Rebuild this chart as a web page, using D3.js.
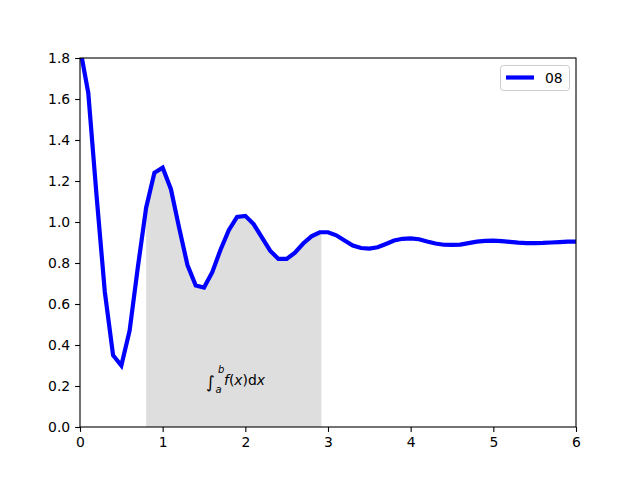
<!DOCTYPE html>
<html><head><meta charset="utf-8">
<script src="https://cdn.jsdelivr.net/npm/d3@7/dist/d3.min.js"></script>
<style>body{margin:0;background:#fff}svg text{font-family:"DejaVu Sans",sans-serif}</style>
</head><body><svg id="c" width="640" height="480"></svg>
<script>
const xValues = [0.0,0.1,0.2,0.3,0.4,0.5,0.6,0.7,0.8,0.9,1.0,1.1,1.2,1.3,1.4,1.5,1.6,1.7,1.8,1.9,2.0,2.1,2.2,2.3,2.4,2.5,2.6,2.7,2.8,2.9,3.0,3.1,3.2,3.3,3.4,3.5,3.6,3.7,3.8,3.9,4.0,4.1,4.2,4.3,4.4,4.5,4.6,4.7,4.8,4.9,5.0,5.1,5.2,5.3,5.4,5.5,5.6,5.7,5.8,5.9,6.0];
const yValues = [1.85,1.63,1.13,0.66,0.35,0.30,0.47,0.78,1.07,1.24,1.265,1.16,0.97,0.79,0.69,0.68,0.755,0.865,0.96,1.025,1.03,0.99,0.925,0.86,0.82,0.82,0.85,0.895,0.93,0.95,0.95,0.935,0.91,0.885,0.873,0.87,0.877,0.893,0.910,0.918,0.920,0.916,0.905,0.895,0.889,0.888,0.890,0.897,0.904,0.908,0.909,0.907,0.903,0.899,0.897,0.897,0.898,0.900,0.902,0.904,0.904];
const seriesName = "08";
const shadeA = 0.8, shadeB = 2.92;
const xTicks = [0,1,2,3,4,5,6];
const yTicks = [0.0,0.2,0.4,0.6,0.8,1.0,1.2,1.4,1.6,1.8];

const svg = d3.select("#c");
const L=80, R=576, T=58, B=427;
const x = d3.scaleLinear().domain([0,6]).range([L,R]);
const y = d3.scaleLinear().domain([0,1.8]).range([B,T]);
const data = xValues.map((v,i)=>({x:v,y:yValues[i]}));

svg.append("defs").append("clipPath").attr("id","clip")
  .append("rect").attr("x",L).attr("y",T).attr("width",R-L).attr("height",B-T);

// shaded region
const interp = xv => {
  for (let i=0;i<data.length-1;i++){
    if (xv>=data[i].x && xv<=data[i+1].x){
      const t=(xv-data[i].x)/(data[i+1].x-data[i].x);
      return data[i].y + t*(data[i+1].y-data[i].y);
    }
  }
  return data[data.length-1].y;
};
const shade = [{x:shadeA,y:interp(shadeA)}]
  .concat(data.filter(d=>d.x>shadeA+1e-9 && d.x<shadeB-1e-9))
  .concat([{x:shadeB,y:interp(shadeB)}]);
svg.append("path").datum(shade)
  .attr("fill","#dedede").attr("stroke","none")
  .attr("d", d3.area().x(d=>x(d.x)).y0(y(0)).y1(d=>y(d.y)));

// line
svg.append("g").attr("clip-path","url(#clip)").append("path").datum(data)
  .attr("fill","none").attr("stroke","#0000ff").attr("stroke-width",4.2)
  .attr("stroke-linejoin","miter")
  .attr("d", d3.line().x(d=>x(d.x)).y(d=>y(d.y)));

// axes
const fs = "13.9px";
const xa = svg.append("g").attr("transform",`translate(0,${B})`)
  .call(d3.axisBottom(x).tickValues(xTicks).tickFormat(d3.format("d")).tickSizeOuter(0).tickSize(4.9).tickPadding(4.9));
const ya = svg.append("g").attr("transform",`translate(${L},0)`)
  .call(d3.axisLeft(y).tickValues(yTicks).tickFormat(d3.format(".1f")).tickSizeOuter(0).tickSize(4.9).tickPadding(4.9));
[xa,ya].forEach(a=>{
  a.select(".domain").remove();
  a.selectAll("text").attr("font-size",fs).attr("font-family","DejaVu Sans").attr("fill","#000");
  a.selectAll("line").attr("stroke","#000").attr("stroke-width",1.1);
});
// frame
svg.append("rect").attr("x",L).attr("y",T).attr("width",R-L).attr("height",B-T)
  .attr("fill","none").attr("stroke","#000").attr("stroke-width",1.1);

// integral label
const lab = svg.append("g");
lab.append("text").attr("x",206).attr("y",388).attr("font-size","17px").text("∫");
lab.append("text").attr("x",218).attr("y",373).attr("font-size","10px").attr("font-style","italic").text("b");
lab.append("text").attr("x",215.5).attr("y",393).attr("font-size","10px").attr("font-style","italic").text("a");
const t = lab.append("text").attr("x",224).attr("y",385).attr("font-size",fs);
t.append("tspan").attr("font-style","italic").text("f");
t.append("tspan").text("(");
t.append("tspan").attr("font-style","italic").text("x");
t.append("tspan").text(")d");
t.append("tspan").attr("font-style","italic").text("x");

// legend
const lg = svg.append("g");
lg.append("rect").attr("x",500.5).attr("y",65.5).attr("width",69).attr("height",25).attr("rx",3)
  .attr("fill","#fff").attr("fill-opacity",0.8).attr("stroke","#cccccc").attr("stroke-width",1);
lg.append("line").attr("x1",506).attr("x2",534).attr("y1",77.5).attr("y2",77.5)
  .attr("stroke","#0000ff").attr("stroke-width",4.2);
lg.append("text").attr("x",545).attr("y",82.5).attr("font-size",fs).text(seriesName);
</script></body></html>
